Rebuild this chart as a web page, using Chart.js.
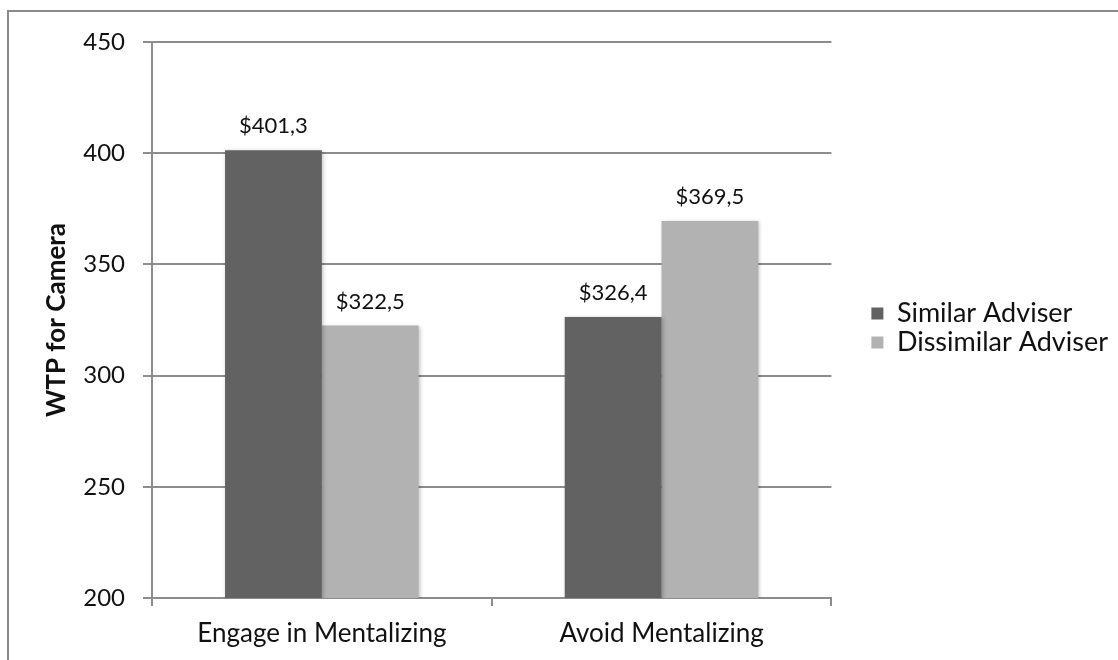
<!DOCTYPE html>
<html>
<head>
<meta charset="utf-8">
<script src="https://cdn.jsdelivr.net/npm/chart.js@4/dist/chart.umd.min.js"></script>
<style>
  html, body { margin: 0; padding: 0; background: #fff; }
  #wrap { position: relative; width: 1118px; height: 660px; overflow: hidden; }
  #frame { position: absolute; left: 7px; top: 10px; width: 1200px; height: 700px; border: 2px solid #8a8a8a; box-sizing: border-box; }
  canvas { position: absolute; left: 0; top: 0; }
</style>
</head>
<body>
<div id="wrap">
  <div id="frame"></div>
  <canvas id="chart" width="1118" height="660"></canvas>
</div>
<script>
// ── Dados ────
const categorias = ['Engage in Mentalizing', 'Avoid Mentalizing'];
const similar = [401.3, 326.4];
const dissimilar = [322.5, 369.5];
const ticksY = [200, 250, 300, 350, 400, 450];

const FONTE = "Lato, 'Open Sans', sans-serif";
const GRADE = '#8c8c8c';
const GAP_LEGENDA = 38;
const SOBE_LEGENDA = 23;

// rótulos de valor acima das barras, formato "$401,3"
const rotulosBarras = {
    id: 'rotulosBarras',
    afterDatasetsDraw(chart) {
        const ctx = chart.ctx;
        ctx.save();
        ctx.font = `22px ${FONTE}`;
        ctx.fillStyle = '#111';
        ctx.textAlign = 'center';
        ctx.textBaseline = 'middle';
        chart.data.datasets.forEach((ds, i) => {
            chart.getDatasetMeta(i).data.forEach((bar, j) => {
                const txt = '$' + ds.data[j].toFixed(1).replace('.', ',');
                ctx.fillText(txt, bar.x, bar.y - 24);
            });
        });
        ctx.restore();
    }
};

// sombra leve nas barras
const sombraBarras = {
    id: 'sombraBarras',
    beforeDatasetsDraw(chart) {
        chart.ctx.save();
        chart.ctx.shadowColor = 'rgba(0,0,0,0.25)';
        chart.ctx.shadowBlur = 4;
        chart.ctx.shadowOffsetX = 1;
        chart.ctx.shadowOffsetY = 1;
    },
    afterDatasetsDraw(chart) { chart.ctx.restore(); }
};

// afasta a legenda da área do gráfico e sobe um pouco
const espacoLegenda = {
    id: 'espacoLegenda',
    afterInit(chart) {
        const lg = chart.legend;
        const fitOrig = lg.fit;
        lg.fit = function () { fitOrig.call(this); this.width += GAP_LEGENDA; };
    },
    afterLayout(chart) {
        const lg = chart.legend;
        lg.left += GAP_LEGENDA;
        lg.top -= SOBE_LEGENDA;
        lg.bottom -= SOBE_LEGENDA;
    }
};

Chart.defaults.font.family = FONTE;
Chart.defaults.color = '#111';

new Chart(document.getElementById('chart'), {
    type: 'bar',
    data: {
        labels: categorias,
        datasets: [
            { label: 'Similar Adviser', data: similar, backgroundColor: '#626262' },
            { label: 'Dissimilar Adviser', data: dissimilar, backgroundColor: '#b2b2b2' }
        ]
    },
    options: {
        responsive: false,
        animation: false,
        layout: { padding: { top: 42, right: 0, bottom: 0, left: 0 } },
        categoryPercentage: 0.57,
        barPercentage: 1,
        plugins: {
            legend: {
                position: 'right',
                labels: {
                    boxWidth: 12, boxHeight: 12, padding: 2,
                    font: { size: 27, family: FONTE }, color: '#111'
                }
            },
            tooltip: { enabled: false }
        },
        scales: {
            x: {
                grid: { offset: true, drawOnChartArea: false, drawTicks: true, tickLength: 8, color: GRADE, lineWidth: 2 },
                border: { color: GRADE, width: 2 },
                ticks: { font: { size: 26 }, color: '#111', padding: 12 },
                afterFit(scale) { scale.height = 62; }
            },
            y: {
                min: 200, max: 450,
                afterBuildTicks(scale) { scale.ticks = ticksY.map(v => ({ value: v })); },
                grid: { color: GRADE, lineWidth: 2, tickLength: 9 },
                border: { color: GRADE, width: 2 },
                ticks: { font: { size: 24 }, color: '#111', padding: 18 },
                title: { display: true, text: 'WTP for Camera', font: { size: 26, weight: 'bold' }, color: '#111', padding: { top: 41, bottom: 0 } },
                afterFit(scale) { scale.width = 152; }
            }
        }
    },
    plugins: [sombraBarras, rotulosBarras, espacoLegenda]
});
</script>
</body>
</html>
